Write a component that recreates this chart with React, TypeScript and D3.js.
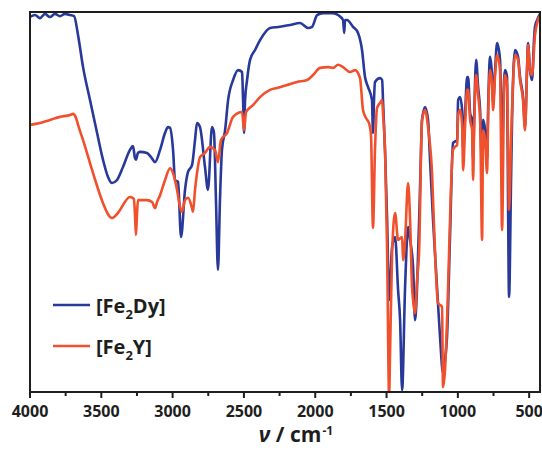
import React from "react";
import * as d3 from "d3";

// [wavenumber (cm-1), transmittance (%)]
const fe2DyData: [number, number][] = [
  [4000, 98.7], [3965, 99.2], [3930, 98.4], [3895, 99.5], [3860, 98.7], [3825, 99.5], [3790, 98.9],
  [3755, 99.5], [3719, 99.2], [3691, 98.9], [3663, 93.9], [3628, 85.5], [3579, 76.8], [3530, 68.2],
  [3488, 61.1], [3453, 56.6], [3425, 55.0], [3390, 55.8], [3348, 59.2], [3299, 63.7], [3278, 64.7],
  [3264, 61.6], [3257, 61.1], [3243, 62.9], [3229, 63.2], [3180, 62.9], [3151, 61.8], [3123, 60.5],
  [3088, 63.7], [3053, 68.2], [3032, 69.7], [3018, 69.5], [2997, 63.7], [2983, 55.8], [2962, 55.3],
  [2941, 40.8], [2913, 53.2], [2892, 57.9], [2864, 59.7], [2843, 66.3], [2829, 70.8], [2808, 69.7],
  [2773, 59.2], [2752, 53.2], [2724, 69.7], [2710, 68.2], [2696, 50.5], [2682, 32.1], [2668, 50.5],
  [2654, 63.7], [2632, 68.9], [2611, 76.8], [2576, 82.1], [2541, 84.7], [2513, 84.2], [2506, 76.8],
  [2499, 68.2], [2492, 76.8], [2478, 82.1], [2457, 87.4], [2422, 90.0], [2387, 92.6], [2317, 95.8],
  [2247, 96.1], [2177, 96.6], [2107, 97.1], [2050, 95.8], [2022, 96.1], [1987, 99.2], [1945, 99.7],
  [1875, 99.7], [1840, 99.2], [1805, 97.9], [1797, 94.5], [1791, 97.9], [1777, 97.9], [1735, 96.1],
  [1700, 94.5], [1672, 90.0], [1651, 82.9], [1630, 80.3], [1602, 76.8], [1595, 68.2], [1588, 76.8],
  [1581, 81.6], [1545, 82.6], [1531, 82.1], [1524, 76.1], [1510, 62.9], [1496, 45.3], [1482, 24.2],
  [1461, 38.2], [1440, 40.8], [1419, 26.8], [1405, 18.9], [1391, 0.5], [1370, 27.6], [1349, 43.4],
  [1335, 40.0], [1314, 32.9], [1300, 18.9], [1286, 27.6], [1265, 53.9], [1251, 71.6], [1230, 75.0],
  [1209, 71.6], [1195, 61.1], [1174, 45.3], [1146, 27.6], [1125, 14.5], [1104, 5.0], [1090, 8.4],
  [1076, 14.5], [1055, 40.8], [1034, 65.5], [1005, 66.3], [998, 76.8], [984, 77.6], [970, 74.2],
  [963, 63.7], [949, 73.4], [935, 82.9], [928, 82.9], [914, 73.4], [900, 71.6], [893, 61.1],
  [886, 71.6], [872, 87.4], [858, 80.3], [844, 74.2], [830, 58.4], [823, 71.6], [809, 68.9],
  [795, 61.1], [788, 74.2], [774, 88.2], [760, 82.9], [753, 76.1], [739, 84.7], [725, 91.8],
  [704, 87.4], [690, 63.7], [676, 82.1], [669, 84.7], [655, 82.9], [648, 49.7], [641, 25.0],
  [627, 55.8], [620, 71.6], [599, 90.0], [578, 88.2], [564, 82.9], [543, 77.6], [529, 69.7],
  [515, 84.7], [508, 91.8], [494, 84.7], [480, 82.1], [466, 92.6], [459, 96.1], [438, 98.4], [424, 99.5],
];

const fe2YData: [number, number][] = [
  [4000, 70.3], [3930, 70.8], [3860, 71.6], [3790, 72.4], [3719, 72.9], [3698, 73.2], [3677, 72.1],
  [3663, 70.3], [3628, 66.3], [3558, 57.6], [3488, 49.7], [3453, 46.8], [3425, 45.8], [3390, 46.8],
  [3369, 47.9], [3299, 51.3], [3271, 50.8], [3264, 46.6], [3257, 41.3], [3250, 46.6], [3243, 50.5],
  [3180, 50.5], [3144, 50.0], [3123, 48.4], [3109, 50.0], [3088, 51.8], [3053, 55.8], [3018, 58.9],
  [2997, 57.6], [2969, 53.2], [2948, 48.7], [2934, 47.4], [2913, 50.5], [2892, 51.1], [2864, 48.4],
  [2857, 47.4], [2843, 53.2], [2829, 57.6], [2808, 61.8], [2773, 62.9], [2738, 64.5], [2703, 63.7],
  [2682, 60.5], [2661, 66.3], [2618, 68.2], [2576, 72.4], [2513, 73.7], [2499, 68.9], [2485, 73.7],
  [2436, 75.5], [2387, 77.6], [2317, 79.5], [2268, 80.0], [2198, 80.8], [2128, 81.6], [2057, 82.1],
  [2015, 83.4], [1966, 85.3], [1910, 85.5], [1875, 85.3], [1840, 86.1], [1805, 85.5], [1756, 84.2],
  [1721, 84.7], [1686, 82.6], [1665, 74.2], [1644, 72.1], [1623, 70.8], [1609, 67.6], [1595, 43.2],
  [1581, 63.7], [1567, 74.7], [1545, 76.1], [1531, 76.8], [1524, 72.9], [1510, 62.9], [1496, 37.4],
  [1482, -1.0], [1475, 11.1], [1461, 36.6], [1440, 47.1], [1419, 40.0], [1391, 40.8], [1384, 34.7],
  [1370, 40.0], [1349, 55.0], [1335, 45.3], [1321, 27.6], [1300, 20.8], [1286, 29.5], [1272, 36.6],
  [1251, 71.6], [1230, 74.2], [1209, 69.7], [1181, 57.6], [1160, 36.6], [1139, 23.4], [1111, 22.4],
  [1104, 1.3], [1090, 5.8], [1069, 26.8], [1055, 45.3], [1034, 63.7], [1020, 64.5], [1005, 65.0],
  [998, 72.9], [984, 74.2], [970, 70.3], [963, 58.4], [949, 70.3], [935, 79.5], [928, 79.5],
  [914, 71.6], [900, 68.9], [893, 55.8], [886, 68.9], [872, 83.4], [858, 78.2], [844, 71.6],
  [830, 40.0], [823, 68.9], [809, 66.3], [795, 57.6], [788, 71.6], [774, 84.7], [760, 80.8],
  [753, 74.2], [739, 83.4], [725, 88.7], [704, 84.7], [690, 42.6], [676, 79.5], [669, 83.4],
  [655, 80.8], [648, 63.7], [641, 47.9], [627, 66.3], [620, 74.2], [599, 88.7], [578, 87.4],
  [564, 82.1], [543, 76.8], [529, 68.9], [515, 84.7], [508, 91.3], [494, 84.7], [480, 83.4],
  [459, 93.9], [438, 97.9], [424, 98.9],
];

const majorTicks = [4000, 3500, 3000, 2500, 2000, 1500, 1000, 500];
const minorTicks = [3750, 3250, 2750, 2250, 1750, 1250, 750];
const seriesNames = ["[Fe2Dy]", "[Fe2Y]"];
const seriesColors = ["#28399a", "#f0502c"];

const W = 542;
const H = 450;
const left = 30;
const right = 540;
const top = 12;
const bottom = 392;

export default function App() {
  const x = d3.scaleLinear().domain([4000, 424]).range([left, right]);
  const y = d3.scaleLinear().domain([0, 100]).range([bottom, top]);
  const line = d3
    .line<[number, number]>()
    .x((d) => x(d[0]))
    .y((d) => y(d[1]))
    .curve(d3.curveMonotoneX);

  const font = "'Open Sans', 'Liberation Sans', Arial, sans-serif";
  const series = [fe2DyData, fe2YData];

  return (
    <svg
      width={W}
      height={H}
      style={{ position: "absolute", left: 0, top: 0, background: "#fff" }}
      fontFamily={font}
    >
      <defs>
        <clipPath id="plotclip">
          <rect x={left} y={top} width={right - left} height={bottom - top} />
        </clipPath>
      </defs>
      <rect x={0} y={0} width={W} height={H} fill="#fff" />
      <g clipPath="url(#plotclip)">
        {series.map((s, i) => (
          <path
            key={i}
            d={line(s) || ""}
            fill="none"
            stroke={seriesColors[i]}
            strokeWidth={2.6}
            strokeLinejoin="round"
          />
        ))}
      </g>
      {/* frame */}
      <rect
        x={left}
        y={top}
        width={right - left}
        height={bottom - top}
        fill="none"
        stroke="#1e1e1e"
        strokeWidth={2}
      />
      {/* ticks */}
      {majorTicks.map((t) => (
        <g key={t}>
          <line x1={x(t)} x2={x(t)} y1={bottom} y2={bottom + 6} stroke="#1e1e1e" strokeWidth={2} />
          <text
            x={x(t)}
            y={417}
            textAnchor="middle"
            fontSize={16}
            fontWeight={700}
            fill="#1e1e1e"
          >
            {t}
          </text>
        </g>
      ))}
      {minorTicks.map((t) => (
        <line key={t} x1={x(t)} x2={x(t)} y1={bottom} y2={bottom + 4} stroke="#1e1e1e" strokeWidth={2} />
      ))}
      {/* axis title */}
      <text x={296} y={442} textAnchor="middle" fontSize={21} fontWeight={700} fill="#1e1e1e">
        <tspan fontStyle="italic">ν</tspan>
        <tspan> / cm</tspan>
        <tspan fontSize={12} dy={-7} dx={1}>-1</tspan>
      </text>
      {/* legend */}
      {seriesNames.map((name, i) => {
        const ly = 305 + i * 41;
        const parts = name.match(/^\[Fe2(.*)\]$/);
        const rest = parts ? parts[1] : name;
        return (
          <g key={name}>
            <line x1={53} x2={90} y1={ly} y2={ly} stroke={seriesColors[i]} strokeWidth={2.6} />
            <text x={96} y={ly + 8} fontSize={20} fontWeight={700} fill="#1e1e1e">
              <tspan>[Fe</tspan>
              <tspan fontSize={13} dy={6}>2</tspan>
              <tspan dy={-6}>{rest}]</tspan>
            </text>
          </g>
        );
      })}
    </svg>
  );
}
